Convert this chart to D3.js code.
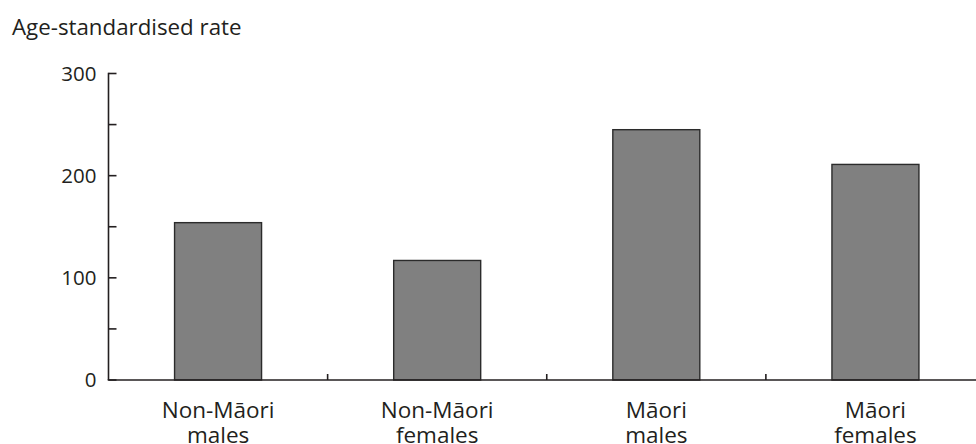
<!DOCTYPE html>
<html><head><meta charset="utf-8">
<script src="https://cdn.jsdelivr.net/npm/d3@7"></script>
<style>
html,body{margin:0;padding:0;background:#fff;}
svg{display:block;}
text{font-family:"Open Sans",sans-serif;fill:#231f20;}
</style></head>
<body>
<script>
const categories = [["Non-Māori","males"],["Non-Māori","females"],["Māori","males"],["Māori","females"]];
const values = [154, 117, 245, 211];
const yTicks = [0, 100, 200, 300];
const yMinorTicks = [0, 50, 100, 150, 200, 250, 300];
const yTitle = "Age-standardised rate";

const W = 976, H = 444;
const svg = d3.select("body").append("svg").attr("width", W).attr("height", H);
const ink = "#231f20";

const x = d3.scaleBand().domain(d3.range(categories.length)).range([108.5, 985]).padding(0);
const y = d3.scaleLinear().domain([0, 300]).range([380, 73.5]);
const barW = x.bandwidth() * 0.397;

// bars
svg.append("g").selectAll("rect").data(values).join("rect")
  .attr("x", (d, i) => x(i) + x.bandwidth() / 2 - barW / 2)
  .attr("y", d => y(d))
  .attr("width", barW)
  .attr("height", d => y(0) - y(d))
  .attr("fill", "#808080")
  .attr("stroke", "#2b2b2b")
  .attr("stroke-width", 1.4);

// y axis
const yAxis = svg.append("g").attr("transform", "translate(108.5,0)");
yAxis.append("line").attr("y1", y(300) - 0.75).attr("y2", y(0)).attr("stroke", ink).attr("stroke-width", 1.6);
yAxis.selectAll("line.tk").data(yMinorTicks).join("line").attr("class", "tk")
  .attr("x1", 0).attr("x2", 8).attr("y1", d => y(d)).attr("y2", d => y(d))
  .attr("stroke", ink).attr("stroke-width", 1.6);
yAxis.selectAll("text").data(yTicks).join("text")
  .attr("x", -12).attr("y", d => y(d)).attr("dy", "0.36em")
  .attr("text-anchor", "end").attr("font-size", 20.5).text(d => d);

// x axis
const xAxis = svg.append("g");
xAxis.append("line").attr("x1", 107.7).attr("x2", W).attr("y1", y(0)).attr("y2", y(0))
  .attr("stroke", ink).attr("stroke-width", 1.6);
xAxis.selectAll("line.tk").data(d3.range(1, categories.length)).join("line").attr("class", "tk")
  .attr("x1", d => x(d)).attr("x2", d => x(d)).attr("y1", y(0)).attr("y2", y(0) - 6)
  .attr("stroke", ink).attr("stroke-width", 1.6);
const lab = xAxis.selectAll("text").data(categories).join("text")
  .attr("text-anchor", "middle").attr("font-size", 22.5);
lab.selectAll("tspan").data((d, i) => d.map(s => ({s, i}))).join("tspan")
  .attr("x", d => x(d.i) + x.bandwidth() / 2)
  .attr("y", (d, j) => 418 + j * 24.5)
  .text(d => d.s);

// title
svg.append("text").attr("x", 12).attr("y", 35).attr("font-size", 22.3).text(yTitle);
</script>
</body></html>
